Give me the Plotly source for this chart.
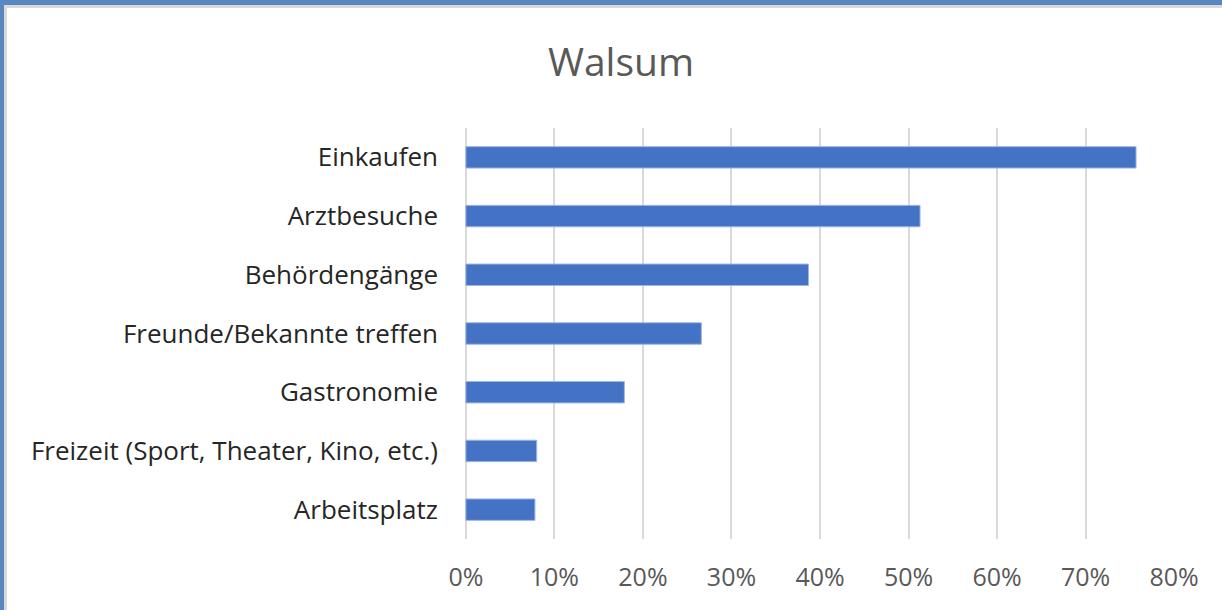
import plotly.graph_objects as go

# ---------------------------------------------------------------------------
# Data
# ---------------------------------------------------------------------------
categories = [
    "Einkaufen",
    "Arztbesuche",
    "Behördengänge",
    "Freunde/Bekannte treffen",
    "Gastronomie",
    "Freizeit (Sport, Theater, Kino, etc.)",
    "Arbeitsplatz",
]
shares = [0.757, 0.513, 0.387, 0.266, 0.179, 0.080, 0.078]
tick_values = [0, 0.1, 0.2, 0.3, 0.4, 0.5, 0.6, 0.7, 0.8]
tick_labels = ["0%", "10%", "20%", "30%", "40%", "50%", "60%", "70%", "80%"]

# ---------------------------------------------------------------------------
# Figure geometry (pixels)
# ---------------------------------------------------------------------------
W, H = 1222, 610
M_L, M_R, M_T, M_B = 465, 47, 128, 71
FONT = "Open Sans, Noto Sans, sans-serif"


def px_x(x):
    # pixel x -> paper x
    return (x - M_L) / (W - M_L - M_R)


def px_y(y):
    # pixel y (from top) -> paper y
    return (H - M_B - y) / (H - M_T - M_B)


fig = go.Figure(
    go.Bar(
        x=shares,
        y=categories,
        orientation="h",
        marker=dict(color="#4472C4", line=dict(color="#9DB6E3", width=1)),
        hoverinfo="x+y",
    )
)

# window frame of the screenshot (blue band + gray inner edge)
frame = [
    (0, 0, W, 5, "#5B87C0"),
    (4, 5, W, 8, "#D9D9D9"),
    (0, 0, 4, H, "#5B87C0"),
    (4, 5, 7, H, "#D9D9D9"),
]
shapes = []
for x0, y0, x1, y1, col in frame:
    shapes.append(dict(
        type="rect", xref="paper", yref="paper",
        x0=px_x(x0), x1=px_x(x1), y0=px_y(y1), y1=px_y(y0),
        fillcolor=col, line=dict(width=0), layer="above",
    ))

fig.update_layout(
    width=W,
    height=H,
    margin=dict(l=M_L, r=M_R, t=M_T, b=M_B),
    paper_bgcolor="white",
    plot_bgcolor="white",
    bargap=0.635,
    showlegend=False,
    shapes=shapes,
    title=dict(
        text="Walsum",
        x=621 / W,
        xanchor="center",
        y=1 - 62 / H,
        yanchor="middle",
        font=dict(family=FONT, size=39, color="#595959"),
    ),
    xaxis=dict(
        range=[-0.001, 0.801],
        tickvals=tick_values,
        ticktext=tick_labels,
        showgrid=True,
        gridcolor="#D9D9D9",
        gridwidth=2,
        zeroline=True,
        zerolinecolor="#D9D9D9",
        zerolinewidth=2,
        showline=False,
        ticks="",
        ticklabelstandoff=21,
        tickfont=dict(family=FONT, size=25, color="#595959"),
        fixedrange=True,
    ),
    yaxis=dict(
        autorange="reversed",
        showgrid=False,
        showline=False,
        ticks="",
        ticklabelstandoff=26,
        tickfont=dict(family=FONT, size=26, color="#262626"),
        fixedrange=True,
    ),
)

# drop the default body margin so the figure sits at the window corner
fig.write_html(
    "out.html",
    config={"displayModeBar": False},
    post_script="document.body.style.margin='0';",
)
